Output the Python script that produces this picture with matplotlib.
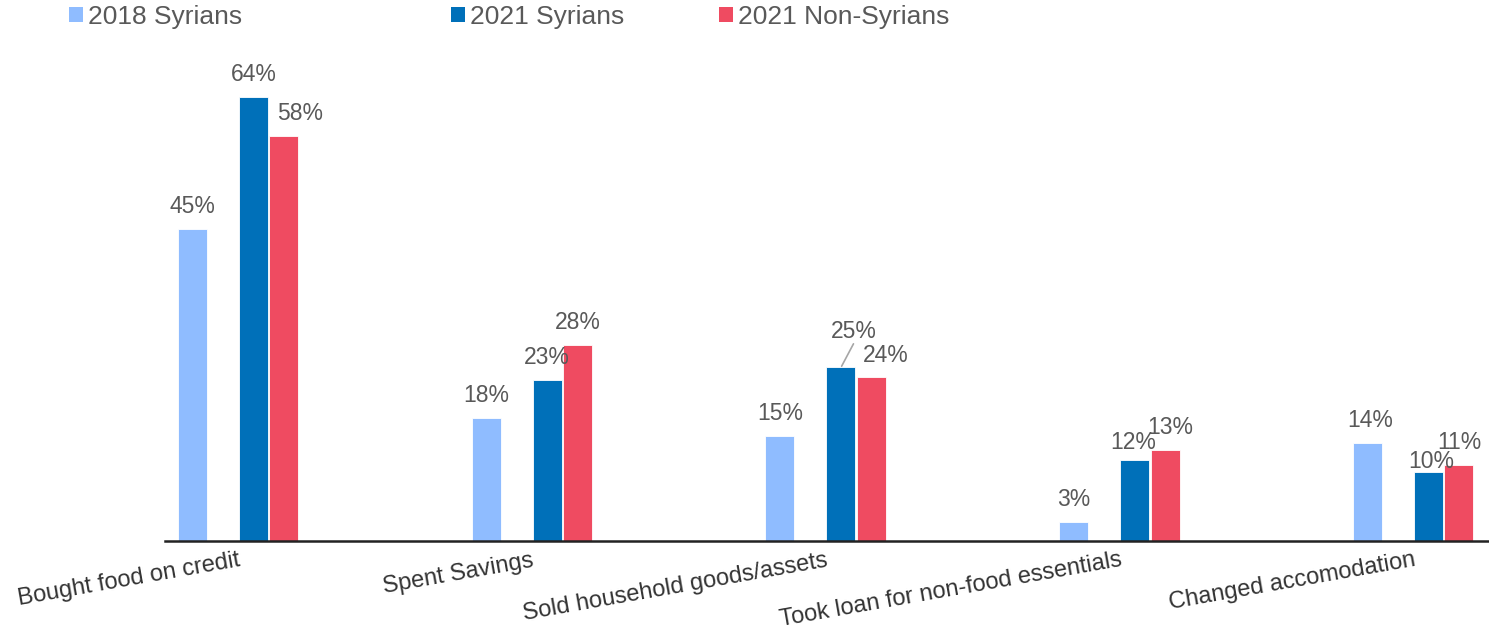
import matplotlib
matplotlib.use('Agg')
import matplotlib.pyplot as plt
from matplotlib.patches import Patch

categories = ['Bought food on credit', 'Spent Savings', 'Sold household goods/assets',
              'Took loan for non-food essentials', 'Changed accomodation']
series_names = ['2018 Syrians', '2021 Syrians', '2021 Non-Syrians']
syr_2018 = [45.0, 17.7, 15.1, 2.7, 14.1]
syr_2021 = [64.0, 23.2, 25.0, 11.6, 9.9]
nonsyr_2021 = [58.4, 28.2, 23.6, 13.1, 10.9]

colors = ['#8FBCFF', '#0070B9', '#EF4B61']
# slot 1 of every group is an empty series in the original chart
slots = [0, 2, 3]
first_off = 0.0936
slot_w = 0.1038
bar_w = 0.0987

# label nudges in pixels (dx, dy) keyed by (series, category)
nudges = {
    (2, 0): (16, 0),
    (1, 2): (13, 13),
    (2, 2): (14, -1),
    (1, 3): (-2, -5),
    (2, 3): (5, 0),
    (1, 4): (3, -12),
    (0, 4): (3, 0),
}

plt.rcParams['font.family'] = ['Liberation Sans', 'DejaVu Sans']

fig = plt.figure(figsize=(14.89, 6.30), dpi=100)
ax = fig.add_axes([165 / 1489., 89 / 630., 1324 / 1489., 486 / 630.])

values = [syr_2018, syr_2021, nonsyr_2021]
for s, vals in enumerate(values):
    xs = [i + first_off + slots[s] * slot_w for i in range(len(categories))]
    ax.bar(xs, vals, width=bar_w, color=colors[s], edgecolor='white',
           linewidth=0.6, label=series_names[s], zorder=2)
    for i, (x, v) in enumerate(zip(xs, vals)):
        dx, dy = nudges.get((s, i), (0, 0))
        ax.annotate('%.0f%%' % v, xy=(x, v), xytext=(dx * 0.72, (16 + dy) * 0.72),
                    textcoords='offset points', ha='center', va='baseline',
                    fontsize=16.5, color='#595959', annotation_clip=False)
        if (s, i) == (1, 2):
            # leader line for the lifted label
            ax.annotate('', xy=(x, v), xytext=(9, 17), textcoords='offset points',
                        arrowprops=dict(arrowstyle='-', color='#A6A6A6', lw=1.2,
                                        shrinkA=0, shrinkB=1))

centers = [i + first_off + 1.5 * slot_w for i in range(len(categories))]
ax.set_xticks(centers)
ax.set_xticklabels(categories, rotation=10, ha='right', rotation_mode='anchor',
                   fontsize=17, color='#333333')
ax.tick_params(axis='x', length=0, pad=6)
ax.set_xlim(0, 1324 / 293.75)
ax.set_ylim(0, 70)
ax.set_yticks([])
for side in ['top', 'right', 'left']:
    ax.spines[side].set_visible(False)
ax.spines['bottom'].set_color('#222222')
ax.spines['bottom'].set_linewidth(1.8)

blank = Patch(facecolor='none', edgecolor='none', label='')
leg_handles = [Patch(facecolor=colors[0]), blank,
               Patch(facecolor=colors[1]), Patch(facecolor=colors[2])]
leg_labels = [series_names[0], '', series_names[1], series_names[2]]
leg = fig.legend(leg_handles, leg_labels, loc='center left',
                 bbox_to_anchor=(69 / 1489., 1 - 17 / 630.), ncol=4, frameon=False,
                 fontsize=19, handlelength=0.53, handleheight=0.53,
                 handletextpad=0.19, columnspacing=3.6, borderpad=0, borderaxespad=0)
for t in leg.get_texts():
    t.set_color('#595959')

fig.savefig('out.png', dpi=100)
